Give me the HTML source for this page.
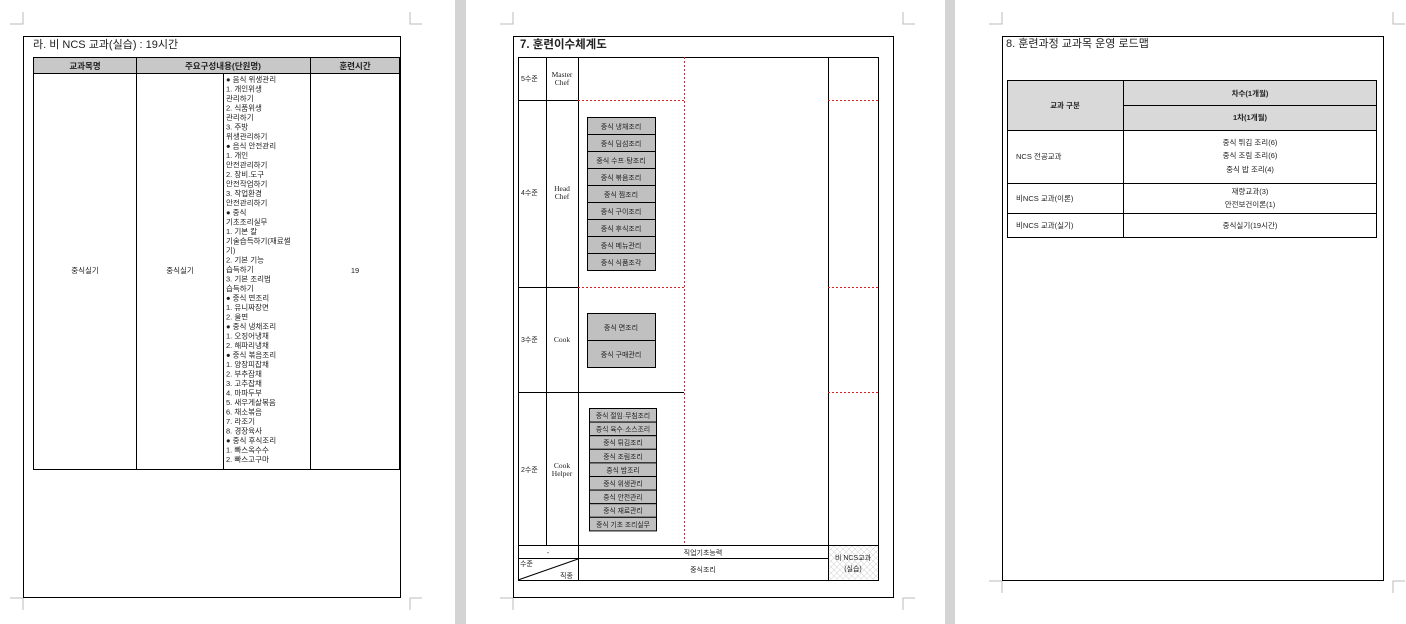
<!DOCTYPE html>
<html><head><meta charset="utf-8"><style>
html,body{margin:0;padding:0;background:#fff;width:1406px;height:624px;overflow:hidden}
svg{display:block}
text{font-family:"Liberation Sans","Noto Sans CJK KR",sans-serif;fill:#222}
.s{font-family:"Liberation Serif","Noto Serif CJK SC",serif}
</style></head><body>
<svg width="1406" height="624" viewBox="0 0 1406 624" xmlns="http://www.w3.org/2000/svg">
<defs>
<pattern id="hatch" width="6" height="6" patternUnits="userSpaceOnUse">
<path d="M0 0L6 6M6 0L0 6" stroke="#d8d8d8" stroke-width="0.6"/>
</pattern>
</defs>
<rect x="455" y="0" width="11" height="624" fill="#d4d4d4"/>
<rect x="945" y="0" width="10" height="624" fill="#d4d4d4"/>
<g stroke="#bbb" fill="none" stroke-width="1">
<path d="M10 24H23V12M410 12V24H422M10 598H23V610M410 610V598H422"/>
<path d="M500 24H513V12M903 12V24H915M500 598H513V610M903 610V598H915"/>
<path d="M989 24H1002V12M1393 12V24H1405M989 581H1002V593M1393 593V581H1405"/>
</g>
<g fill="none" stroke="#000" stroke-width="1">
<rect x="23.5" y="36.5" width="377" height="561"/>
<rect x="513.5" y="36.5" width="380" height="561"/>
<rect x="1002.5" y="36.5" width="381" height="544"/>
</g>

<!-- LEFT PAGE -->
<text x="33" y="48" font-size="11">라. 비 NCS 교과(실습) : 19시간</text>
<rect x="33.5" y="57.5" width="366" height="16" fill="#c8c8c8" stroke="#000"/>
<g stroke="#000" fill="none">
<rect x="33.5" y="57.5" width="366" height="412"/>
<path d="M136.5 57V470M310.5 57V470M223.5 74V470"/>
</g>
<g font-size="8.5" font-weight="bold" text-anchor="middle">
<text x="85" y="69">교과목명</text><text x="223" y="69">주요구성내용(단원명)</text><text x="355" y="69">훈련시간</text>
</g>
<g font-size="7.5" text-anchor="middle">
<text x="85" y="273">중식실기</text><text x="180" y="273">중식실기</text><text x="355" y="273">19</text>
</g>
<g font-size="7.5" fill="#333" transform="translate(0,2)">
<text x="226" y="80">● 음식 위생관리</text>
<text x="226" y="89.5">1. 개인위생</text>
<text x="226" y="99">관리하기</text>
<text x="226" y="108.5">2. 식품위생</text>
<text x="226" y="118">관리하기</text>
<text x="226" y="127.5">3. 주방</text>
<text x="226" y="137">위생관리하기</text>
<text x="226" y="146.5">● 음식 안전관리</text>
<text x="226" y="156">1. 개인</text>
<text x="226" y="165.5">안전관리하기</text>
<text x="226" y="175">2. 장비.도구</text>
<text x="226" y="184.5">안전작업하기</text>
<text x="226" y="194">3. 작업환경</text>
<text x="226" y="203.5">안전관리하기</text>
<text x="226" y="213">● 중식</text>
<text x="226" y="222.5">기초조리실무</text>
<text x="226" y="232">1. 기본 칼</text>
<text x="226" y="241.5">기술습득하기(재료썰</text>
<text x="226" y="251">기)</text>
<text x="226" y="260.5">2. 기본 기능</text>
<text x="226" y="270">습득하기</text>
<text x="226" y="279.5">3. 기본 조리법</text>
<text x="226" y="289">습득하기</text>
<text x="226" y="298.5">● 중식 면조리</text>
<text x="226" y="308">1. 유니짜장면</text>
<text x="226" y="317.5">2. 울면</text>
<text x="226" y="327">● 중식 냉채조리</text>
<text x="226" y="336.5">1. 오징어냉채</text>
<text x="226" y="346">2. 해파리냉채</text>
<text x="226" y="355.5">● 중식 볶음조리</text>
<text x="226" y="365">1. 양장피잡채</text>
<text x="226" y="374.5">2. 부추잡채</text>
<text x="226" y="384">3. 고추잡채</text>
<text x="226" y="393.5">4. 마파두부</text>
<text x="226" y="403">5. 새우게살볶음</text>
<text x="226" y="412.5">6. 채소볶음</text>
<text x="226" y="422">7. 라조기</text>
<text x="226" y="431.5">8. 경장육사</text>
<text x="226" y="441">● 중식 후식조리</text>
<text x="226" y="450.5">1. 빠스옥수수</text>
<text x="226" y="460">2. 빠스고구마</text>
</g>

<!-- MIDDLE PAGE -->
<text x="520" y="48" font-size="11.5" font-weight="bold">7. 훈련이수체계도</text>
<rect x="828.5" y="545.5" width="50" height="34" fill="url(#hatch)"/>
<g stroke="#000" fill="none" stroke-width="1">
<rect x="518.5" y="57.5" width="360" height="523"/>
<path d="M546.5 57V545M578.5 57V580M828.5 57V580"/>
<path d="M518 100.5H578M518 287.5H578M518 392.5H684M518 545.5H878M578 558.5H828"/>
<path d="M518 580L578 559"/>
</g>
<g stroke="#d22" stroke-dasharray="2,2" fill="none" stroke-width="1">
<path d="M684.5 57V545"/>
<path d="M578 100.5H684M828 100.5H878M578 287.5H684M828 287.5H878M828 392.5H878"/>
</g>
<g font-size="7">
<text x="521" y="81">5수준</text><text x="521" y="195">4수준</text><text x="521" y="342">3수준</text><text x="521" y="472">2수준</text>
</g>
<g class="s" font-size="7.5" text-anchor="middle">
<text class="s" x="562" y="77">Master</text><text class="s" x="562" y="85">Chef</text>
<text class="s" x="562" y="191">Head</text><text class="s" x="562" y="199">Chef</text>
<text class="s" x="562" y="342">Cook</text>
<text class="s" x="562" y="468">Cook</text><text class="s" x="562" y="476">Helper</text>
</g>
<g stroke="#000" fill="#c0c0c0">
<rect x="587.5" y="117.5" width="68" height="17"/><rect x="587.5" y="134.5" width="68" height="17"/>
<rect x="587.5" y="151.5" width="68" height="17"/><rect x="587.5" y="168.5" width="68" height="17"/>
<rect x="587.5" y="185.5" width="68" height="17"/><rect x="587.5" y="202.5" width="68" height="17"/>
<rect x="587.5" y="219.5" width="68" height="17"/><rect x="587.5" y="236.5" width="68" height="17"/>
<rect x="587.5" y="253.5" width="68" height="17"/>
<rect x="587.5" y="313.5" width="68" height="27"/><rect x="587.5" y="340.5" width="68" height="27"/>
<rect x="589.5" y="408.5" width="67" height="13.6"/><rect x="589.5" y="422.1" width="67" height="13.6"/>
<rect x="589.5" y="435.7" width="67" height="13.6"/><rect x="589.5" y="449.3" width="67" height="13.6"/>
<rect x="589.5" y="462.9" width="67" height="13.6"/><rect x="589.5" y="476.5" width="67" height="13.6"/>
<rect x="589.5" y="490.1" width="67" height="13.6"/><rect x="589.5" y="503.7" width="67" height="13.6"/>
<rect x="589.5" y="517.3" width="67" height="13.6"/>
</g>
<g font-size="7" text-anchor="middle" fill="#111">
<text x="621" y="129">중식 냉채조리</text><text x="621" y="146">중식 딤섬조리</text>
<text x="621" y="163">중식 수프·탕조리</text><text x="621" y="180">중식 볶음조리</text>
<text x="621" y="197">중식 찜조리</text><text x="621" y="214">중식 구이조리</text>
<text x="621" y="231">중식 후식조리</text><text x="621" y="248">중식 메뉴관리</text>
<text x="621" y="265">중식 식품조각</text>
<text x="621" y="330">중식 면조리</text><text x="621" y="357">중식 구매관리</text>
</g>
<g font-size="6.8" text-anchor="middle" fill="#111">
<text x="623" y="418">중식 절임·무침조리</text><text x="623" y="431.6">중식 육수·소스조리</text>
<text x="623" y="445.2">중식 튀김조리</text><text x="623" y="458.8">중식 조림조리</text>
<text x="623" y="472.4">중식 밥조리</text><text x="623" y="486">중식 위생관리</text>
<text x="623" y="499.6">중식 안전관리</text><text x="623" y="513.2">중식 재료관리</text>
<text x="623" y="526.8">중식 기초 조리실무</text>
</g>
<g stroke="#000"><path d="M518 558.5H578"/></g>
<g font-size="7" fill="#333">
<text x="548" y="555" text-anchor="middle">-</text>
<text x="703" y="555" text-anchor="middle">직업기초능력</text>
<text x="703" y="572" text-anchor="middle">중식조리</text>
<text x="520" y="566">수준</text><text x="560" y="578">직종</text>
<text x="853" y="560" text-anchor="middle">비 NCS교과</text>
<text x="853" y="571" text-anchor="middle">(실습)</text>
</g>

<!-- RIGHT PAGE -->
<text x="1006" y="47" font-size="11">8. 훈련과정 교과목 운영 로드맵</text>
<rect x="1007.5" y="80.5" width="369" height="50" fill="#d9d9d9"/>
<g stroke="#000" fill="none">
<rect x="1007.5" y="80.5" width="369" height="157"/>
<path d="M1123.5 80V238M1123 105.5H1377M1007 130.5H1377M1007 183.5H1377M1007 213.5H1377"/>
</g>
<g font-size="7.5" fill="#333">
<text x="1065" y="108" text-anchor="middle" font-weight="bold">교과 구분</text>
<text x="1250" y="96" text-anchor="middle" font-weight="bold">차수(1개월)</text>
<text x="1250" y="120" text-anchor="middle" font-weight="bold">1차(1개월)</text>
<text x="1016" y="159">NCS 전공교과</text>
<text x="1016" y="201">비NCS 교과(이론)</text>
<text x="1016" y="228">비NCS 교과(실기)</text>
<text x="1250" y="145" text-anchor="middle">중식 튀김 조리(6)</text>
<text x="1250" y="158" text-anchor="middle">중식 조림 조리(6)</text>
<text x="1250" y="172" text-anchor="middle">중식 밥 조리(4)</text>
<text x="1250" y="194" text-anchor="middle">재량교과(3)</text>
<text x="1250" y="207" text-anchor="middle">안전보건이론(1)</text>
<text x="1250" y="228" text-anchor="middle">중식실기(19시간)</text>
</g>
</svg>
</body></html>
